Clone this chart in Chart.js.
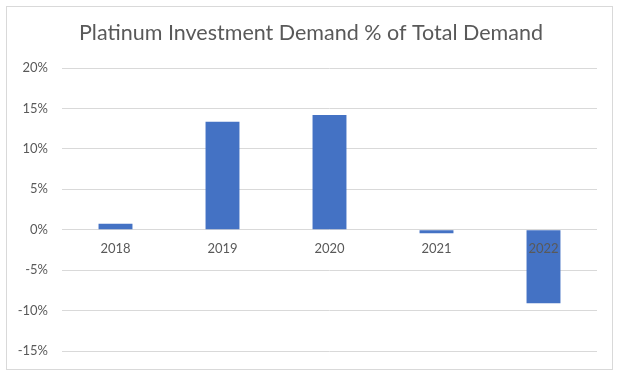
<!DOCTYPE html>
<html>
<head>
<meta charset="utf-8">
<script src="https://cdn.jsdelivr.net/npm/chart.js@4/dist/chart.umd.min.js"></script>
<style>
  html, body { margin: 0; padding: 0; background: #ffffff; }
  #wrap { position: relative; width: 626px; height: 378px; }
  #frame { position: absolute; left: 6px; top: 6px; width: 605px; height: 362px; border: 1px solid #d9d9d9; pointer-events: none; }
  canvas { position: absolute; left: 0; top: 0; }
</style>
</head>
<body>
<div id="wrap">
  <canvas id="c" width="626" height="378"></canvas>
  <div id="frame"></div>
</div>
<script>
const titleText = "Platinum Investment Demand % of Total Demand";
const categories = ["2018", "2019", "2020", "2021", "2022"];
const investmentShare = [0.75, 13.35, 14.2, -0.45, -9.1];
const yTicks = [-15, -10, -5, 0, 5, 10, 15, 20];

const FONT = "Lato, 'Open Sans', sans-serif";
const GREY = "#595959";

const centeredTitle = {
  id: "centeredTitle",
  afterDraw(chart) {
    const ctx = chart.ctx;
    ctx.save();
    ctx.fillStyle = GREY;
    ctx.font = "21.5px " + FONT;
    ctx.textAlign = "center";
    ctx.textBaseline = "middle";
    ctx.fillText(titleText, 311, 33);
    ctx.restore();
  }
};

new Chart(document.getElementById("c"), {
  type: "bar",
  data: {
    labels: categories,
    datasets: [{
      data: investmentShare,
      backgroundColor: "#4472C4",
      borderWidth: 0,
      categoryPercentage: 1,
      barPercentage: 0.317
    }]
  },
  options: {
    responsive: false,
    animation: false,
    devicePixelRatio: 1,
    layout: { padding: { left: 0, right: 29, top: 68, bottom: 27 } },
    plugins: {
      legend: { display: false },
      tooltip: { enabled: false },
      title: { display: false }
    },
    scales: {
      x: {
        position: { y: 0 },
        grid: { display: false, drawTicks: false },
        border: { display: false },
        ticks: {
          z: 1,
          color: GREY,
          font: { family: FONT, size: 13 },
          padding: 11,
          maxRotation: 0
        }
      },
      y: {
        min: yTicks[0],
        max: yTicks[yTicks.length - 1],
        afterFit: (s) => { s.width = 62; },
        afterBuildTicks: (s) => { s.ticks = yTicks.map(v => ({ value: v })); },
        grid: { color: "#d9d9d9", lineWidth: 1, drawTicks: false },
        border: { display: false },
        ticks: {
          color: GREY,
          font: { family: FONT, size: 13 },
          padding: 14,
          callback: (v) => v + "%"
        }
      }
    }
  },
  plugins: [centeredTitle]
});
</script>
</body>
</html>
